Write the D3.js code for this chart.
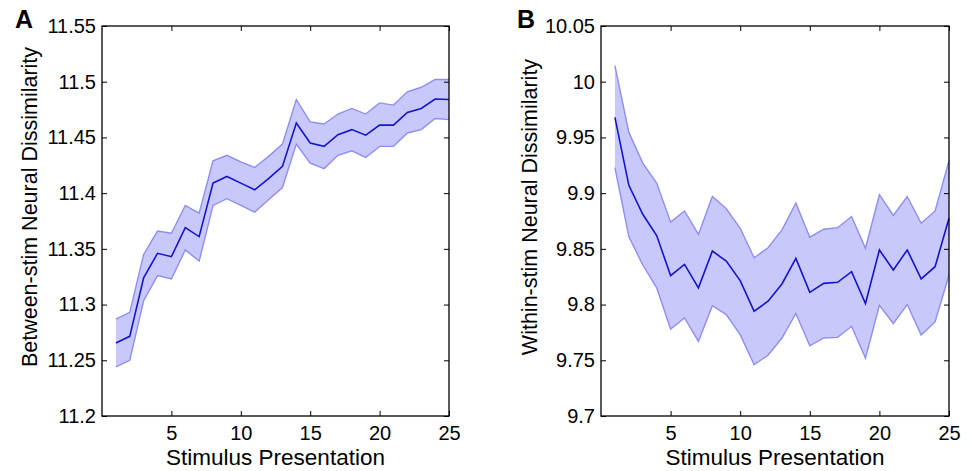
<!DOCTYPE html>
<html>
<head>
<meta charset="utf-8">
<script src="https://cdn.jsdelivr.net/npm/d3@7"></script>
<style>
  html, body { margin: 0; padding: 0; background: #fff; }
  svg { display: block; font-family: "Liberation Sans", Arial, Helvetica, sans-serif; }
</style>
</head>
<body>
<svg id="chart" width="972" height="471"></svg>
<script>
// ---- Data ----
const presentations = d3.range(1, 26);
const xTicks = [5, 10, 15, 20, 25];

const betweenMean  = [11.2655, 11.2715, 11.324, 11.346, 11.343, 11.369, 11.361, 11.409, 11.415, 11.409, 11.403, 11.413, 11.424, 11.463, 11.445, 11.442, 11.4525, 11.457, 11.452, 11.461, 11.461, 11.4725, 11.476, 11.4845, 11.484];
const betweenUpper = [11.287, 11.293, 11.345, 11.366, 11.364, 11.389, 11.382, 11.429, 11.434, 11.428, 11.423, 11.433, 11.444, 11.484, 11.464, 11.462, 11.471, 11.476, 11.471, 11.481, 11.479, 11.491, 11.495, 11.502, 11.502];
const betweenLower = [11.244, 11.250, 11.3035, 11.326, 11.323, 11.349, 11.339, 11.389, 11.395, 11.389, 11.383, 11.394, 11.405, 11.444, 11.427, 11.422, 11.434, 11.438, 11.432, 11.442, 11.442, 11.454, 11.457, 11.467, 11.466];
const betweenTicks = [11.2, 11.25, 11.3, 11.35, 11.4, 11.45, 11.5, 11.55];

const withinMean  = [9.968, 9.907, 9.881, 9.862, 9.826, 9.836, 9.815, 9.848, 9.839, 9.8215, 9.794, 9.803, 9.8185, 9.8415, 9.811, 9.819, 9.820, 9.8295, 9.801, 9.849, 9.831, 9.849, 9.823, 9.834, 9.8774];
const withinUpper = [10.0144, 9.9546, 9.927, 9.909, 9.874, 9.884, 9.863, 9.897, 9.886, 9.8685, 9.842, 9.851, 9.867, 9.891, 9.8605, 9.8676, 9.869, 9.879, 9.8505, 9.8986, 9.880, 9.897, 9.873, 9.884, 9.929];
const withinLower = [9.923, 9.861, 9.8355, 9.815, 9.778, 9.788, 9.767, 9.799, 9.791, 9.773, 9.746, 9.7545, 9.770, 9.792, 9.763, 9.770, 9.7706, 9.7805, 9.752, 9.7994, 9.783, 9.800, 9.7727, 9.7844, 9.8265];
const withinTicks = [9.7, 9.75, 9.8, 9.85, 9.9, 9.95, 10, 10.05];

const panels = [
  { letter: "A", yLabel: "Between-stim Neural Dissimilarity", mean: betweenMean, upper: betweenUpper, lower: betweenLower,
    yDomain: [11.2, 11.55], yTicks: betweenTicks, left: 102, right: 449, letterX: 15, yLabelX: 29 },
  { letter: "B", yLabel: "Within-stim Neural Dissimilarity", mean: withinMean, upper: withinUpper, lower: withinLower,
    yDomain: [9.7, 10.05], yTicks: withinTicks, left: 601, right: 949, letterX: 517, yLabelX: 529 }
];

const plotTop = 26, plotBottom = 416;
const svg = d3.select("#chart");
const fmt = d => String(+d.toFixed(2));

panels.forEach(p => {
  const x = d3.scaleLinear().domain([0, 25]).range([p.left, p.right]);
  const y = d3.scaleLinear().domain(p.yDomain).range([plotBottom, plotTop]);
  const g = svg.append("g");

  const rows = presentations.map((n, i) => ({ n, m: p.mean[i], u: p.upper[i], l: p.lower[i] }));

  // band
  g.append("path")
    .datum(rows)
    .attr("d", d3.area().x(d => x(d.n)).y0(d => y(d.l)).y1(d => y(d.u)))
    .attr("fill", "#c8c8fb")
    .attr("stroke", "none");
  // band edges
  ["u", "l"].forEach(k => {
    g.append("path")
      .datum(rows)
      .attr("d", d3.line().x(d => x(d.n)).y(d => y(d[k])))
      .attr("fill", "none")
      .attr("stroke", "#8e8ef2")
      .attr("stroke-width", 1.4);
  });
  // mean
  g.append("path")
    .datum(rows)
    .attr("d", d3.line().x(d => x(d.n)).y(d => y(d.m)))
    .attr("fill", "none")
    .attr("stroke", "#1414cc")
    .attr("stroke-width", 1.6);

  // axes
  const styleAxis = sel => {
    sel.select(".domain").remove();
    sel.selectAll(".tick line").attr("stroke", "#000").attr("stroke-width", 1);
    sel.selectAll(".tick text").attr("fill", "#000").style("font-size", "20px");
  };
  g.append("g")
    .attr("transform", `translate(${p.left},0)`)
    .call(d3.axisLeft(y).tickValues(p.yTicks).tickFormat(fmt).tickSize(-5).tickPadding(6))
    .call(styleAxis);
  g.append("g")
    .attr("transform", `translate(${p.right},0)`)
    .call(d3.axisRight(y).tickValues(p.yTicks).tickFormat("").tickSize(-5))
    .call(styleAxis);
  g.append("g")
    .attr("transform", `translate(0,${plotBottom})`)
    .call(d3.axisBottom(x).tickValues(xTicks).tickSize(-5).tickPadding(10))
    .call(styleAxis);
  g.append("g")
    .attr("transform", `translate(0,${plotTop})`)
    .call(d3.axisTop(x).tickValues(xTicks).tickFormat("").tickSize(-5))
    .call(styleAxis);

  // box
  g.append("rect")
    .attr("x", p.left).attr("y", plotTop)
    .attr("width", p.right - p.left).attr("height", plotBottom - plotTop)
    .attr("fill", "none").attr("stroke", "#000").attr("stroke-width", 1.3);

  // labels
  g.append("text")
    .attr("x", (p.left + p.right) / 2).attr("y", 465)
    .attr("text-anchor", "middle")
    .style("font-size", "22.5px")
    .text("Stimulus Presentation");
  g.append("text")
    .attr("transform", `translate(${p.yLabelX + 8},207) rotate(-90)`)
    .attr("text-anchor", "middle")
    .style("font-size", "21.5px")
    .text(p.yLabel);
  g.append("text")
    .attr("x", p.letterX).attr("y", 28)
    .style("font-size", "25px").style("font-weight", "bold")
    .text(p.letter);
});
</script>
</body>
</html>
